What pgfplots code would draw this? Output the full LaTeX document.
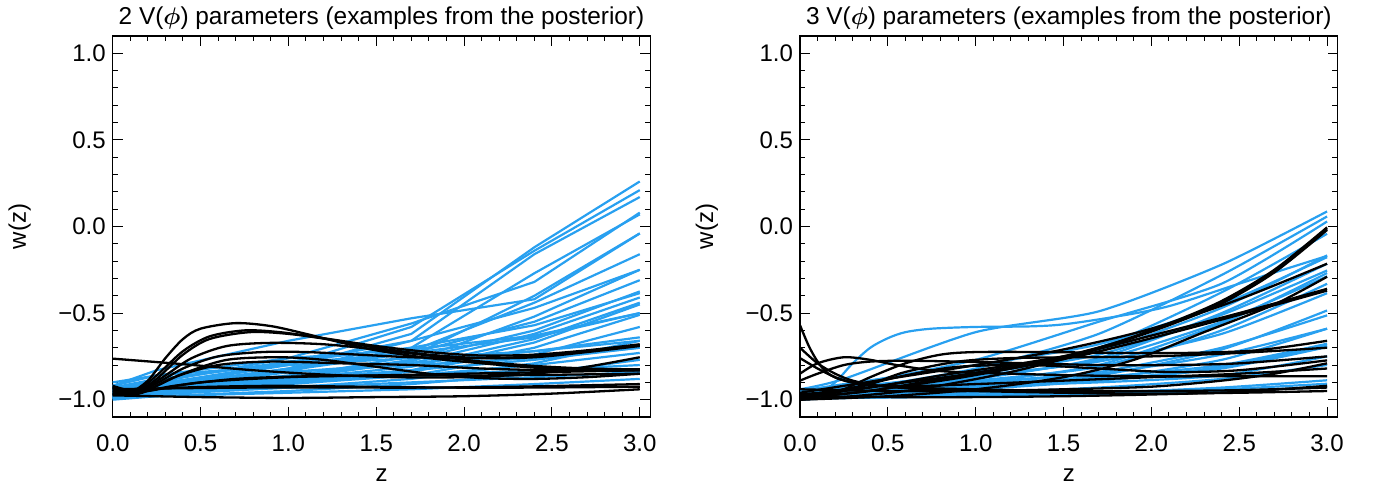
\documentclass[border=0pt]{standalone}
\usepackage{amsmath}
\usepackage{fontspec}
\setmainfont{Liberation Sans}
\usepackage{pgfplots}
\pgfplotsset{compat=1.18}
\definecolor{lblue}{RGB}{40,160,240}
\pgfplotsset{
  every axis title shift=0pt,
  idl/.style={
    scale only axis, width=268.8pt, height=190.5pt,
    xmin=0, xmax=3.06, ymin=-1.1, ymax=1.1,
    xtick={0,0.5,1,1.5,2,2.5,3},
    xticklabels={0.0,0.5,1.0,1.5,2.0,2.5,3.0},
    ytick={-1,-0.5,0,0.5,1},
    yticklabels={−1.0,−0.5,0.0,0.5,1.0},
    minor x tick num=4, minor y tick num=4,
    tick align=inside, major tick length=5pt, minor tick length=2.7pt,
    every tick/.style={black, line width=0.5pt},
    axis line style={line width=0.6pt},
    tick label style={font=\fontsize{12}{14}\selectfont},
    xticklabel style={yshift=-5.5pt},
    label style={font=\fontsize{12}{14}\selectfont},
    title style={font=\fontsize{12.2}{14}\selectfont, at={(axis description cs:0.5,1.0289)}, anchor=base},
    xlabel={z},
    xlabel style={at={(axis description cs:0.5,-0.1698)}, anchor=base},
    ylabel={w(z)},
    ylabel style={at={(axis description cs:-0.173,0.5)}, anchor=center},
    bl/.style={lblue, line width=1.1pt},
    bk/.style={black, line width=1.15pt, smooth},
  }
}
\pgfplotstableread{
z    a1    a2    a3    a4    a5    a6    a7    a8    a9    a10   a11   a12   a13    a14   a15
0   -0.97 -0.96 -0.98 -0.95 -0.97 -0.92 -0.96 -0.99 -0.95 -0.97 -0.98 -0.94 -0.96  -0.99 -0.93
0.25 -0.94 -0.92 -0.95 -0.90 -0.94 -0.83 -0.92 -0.96 -0.91 -0.93 -0.95 -0.89 -0.93 -0.97 -0.88
1.0 -0.82 -0.80 -0.84 -0.76 -0.83 -0.66 -0.82 -0.88 -0.79 -0.83 -0.87 -0.78 -0.86  -0.90 -0.79
1.7 -0.62 -0.58 -0.66 -0.56 -0.70 -0.53 -0.72 -0.78 -0.66 -0.73 -0.77 -0.70 -0.79  -0.83 -0.73
2.4 -0.12 -0.14 -0.16 -0.32 -0.27 -0.42 -0.44 -0.52 -0.47 -0.55 -0.60 -0.57 -0.62  -0.67 -0.64
3.0  0.26  0.21  0.17  0.08  0.07 -0.04 -0.16 -0.25 -0.25 -0.31 -0.375 -0.385 -0.41 -0.45 -0.50
}\leftblueA
\pgfplotstableread{
z    a16   a17   a18   a19   a20   a21   a22   a23   a24   a25   a26   a27   a28   a29   a30
0   -0.97 -0.98 -0.95 -0.99 -0.97 -1.00 -0.96 -0.98 -0.90 -0.99 -0.94 -0.97 -0.92 -0.98 -0.96
0.25 -0.95 -0.96 -0.91 -0.97 -0.94 -0.98 -0.93 -0.96 -0.86 -0.98 -0.90 -0.95 -0.86 -0.95 -0.94
1.0 -0.89 -0.91 -0.84 -0.93 -0.88 -0.95 -0.89 -0.93 -0.80 -0.96 -0.84 -0.90 -0.76 -0.88 -0.87
1.7 -0.84 -0.86 -0.79 -0.88 -0.83 -0.91 -0.86 -0.90 -0.76 -0.94 -0.80 -0.86 -0.71 -0.81 -0.75
2.4 -0.70 -0.74 -0.72 -0.79 -0.77 -0.85 -0.83 -0.87 -0.72 -0.91 -0.76 -0.80 -0.63 -0.65 -0.40
3.0 -0.51 -0.58 -0.64 -0.66 -0.70 -0.77 -0.80 -0.84 -0.66 -0.88 -0.70 -0.73 -0.50 -0.44 -0.04
}\leftblueB
\pgfplotstableread{
z    r1    r2    r3    r4    r5    r6    r7    r8    r9    r10   r11   r12
0   -0.94 -0.98 -0.96 -0.99 -0.97 -0.95 -0.98 -0.96 -0.99 -0.97 -0.98 -0.95
0.25 -0.88 -0.95 -0.92 -0.96 -0.94 -0.91 -0.96 -0.93 -0.97 -0.95 -0.96 -0.93
1.0 -0.61 -0.82 -0.77 -0.85 -0.84 -0.80 -0.88 -0.85 -0.90 -0.87 -0.89 -0.86
1.7 -0.49 -0.62 -0.55 -0.70 -0.72 -0.68 -0.76 -0.74 -0.80 -0.77 -0.81 -0.78
2.4 -0.22 -0.28 -0.33 -0.38 -0.47 -0.45 -0.50 -0.51 -0.56 -0.55 -0.60 -0.62
3.0  0.087 0.058 0.029 -0.042 -0.167 -0.177 -0.215 -0.254 -0.269 -0.288 -0.331 -0.385
}\rightblueA
\pgfplotstableread{
z    r13   r14   r15   r16   r17   r18   r19   r20   r21   r22   r23   r24
0   -0.99 -0.97 -0.98 -0.96 -1.00 -0.97 -0.99 -1.00 -0.98 -0.99 -0.95 -0.94
0.25 -0.97 -0.95 -0.97 -0.95 -0.98 -0.96 -0.98 -0.99 -0.98 -0.99 -0.94 -0.93
1.0 -0.92 -0.90 -0.93 -0.91 -0.94 -0.93 -0.96 -0.98 -0.97 -0.98 -0.92 -0.90
1.7 -0.86 -0.84 -0.88 -0.87 -0.89 -0.89 -0.93 -0.96 -0.96 -0.97 -0.90 -0.85
2.4 -0.71 -0.70 -0.77 -0.80 -0.81 -0.82 -0.88 -0.93 -0.94 -0.95 -0.86 -0.74
3.0 -0.485 -0.513 -0.59 -0.677 -0.687 -0.696 -0.80 -0.888 -0.908 -0.927 -0.75 -0.59
}\rightblueB
\begin{document}
\begin{tikzpicture}
\path[use as bounding box] (0,0) rectangle (690pt,243.5pt);
% ---------------- left panel ----------------
\begin{axis}[idl, at={(56.35pt,35pt)}, anchor=south west,
  title={2 V($\boldsymbol{\phi}$) parameters (examples from the posterior)}]
\foreach \c in {a1,a2,a3,a4,a5,a6,a7,a8,a9,a10,a11,a12,a13,a14,a15}{
  \addplot[bl] table[x=z, y=\c] {\leftblueA};
}
\foreach \c in {a16,a17,a18,a19,a20,a21,a22,a23,a24,a25,a26,a27,a28,a29,a30}{
  \addplot[bl] table[x=z, y=\c] {\leftblueB};
}
\addplot[bk] coordinates {(0,-0.93) (0.1,-0.955) (0.2,-0.89) (0.3,-0.76) (0.4,-0.65) (0.5,-0.59) (0.7,-0.558) (0.9,-0.575) (1.1,-0.62) (1.3,-0.67) (1.5,-0.715) (1.8,-0.76) (2.1,-0.79) (2.4,-0.815) (2.7,-0.83) (3.0,-0.83)};
\addplot[bk] coordinates {(0,-0.95) (0.12,-0.96) (0.25,-0.86) (0.4,-0.72) (0.55,-0.635) (0.75,-0.60) (0.95,-0.61) (1.2,-0.645) (1.5,-0.69) (1.8,-0.725) (2.1,-0.745) (2.4,-0.74) (2.7,-0.715) (3.0,-0.68)};
\addplot[bk] coordinates {(0,-0.96) (0.12,-0.965) (0.25,-0.88) (0.4,-0.74) (0.55,-0.65) (0.78,-0.61) (1.0,-0.62) (1.25,-0.655) (1.5,-0.70) (1.8,-0.74) (2.1,-0.76) (2.4,-0.755) (2.7,-0.725) (3.0,-0.69)};
\addplot[bk] coordinates {(0,-0.97) (0.15,-0.955) (0.3,-0.86) (0.45,-0.76) (0.65,-0.69) (0.9,-0.672) (1.2,-0.68) (1.5,-0.71) (1.8,-0.745) (2.1,-0.78) (2.4,-0.805) (2.7,-0.82) (3.0,-0.825)};
\addplot[bk] coordinates {(0,-0.96) (0.2,-0.93) (0.4,-0.82) (0.6,-0.75) (0.85,-0.725) (1.1,-0.725) (1.4,-0.74) (1.7,-0.755) (2.0,-0.76) (2.3,-0.755) (2.6,-0.73) (3.0,-0.685)};
\addplot[bk] coordinates {(0,-0.97) (0.2,-0.94) (0.4,-0.85) (0.65,-0.77) (0.95,-0.755) (1.2,-0.77) (1.5,-0.81) (1.8,-0.85) (2.1,-0.875) (2.4,-0.88) (2.7,-0.87) (3.0,-0.85)};
\addplot[bk] coordinates {(0,-0.763) (0.4,-0.795) (0.8,-0.83) (1.2,-0.855) (1.6,-0.87) (2.0,-0.87) (2.4,-0.85) (2.7,-0.81) (3.0,-0.755)};
\addplot[bk] coordinates {(0,-0.975) (0.5,-0.985) (1.0,-0.99) (1.5,-0.985) (2.0,-0.98) (2.5,-0.965) (3.0,-0.94)};
\addplot[bk] coordinates {(0,-0.94) (0.3,-0.935) (0.8,-0.93) (1.3,-0.93) (1.8,-0.93) (2.3,-0.925) (3.0,-0.91)};
\addplot[bk] coordinates {(0,-0.92) (0.15,-0.955) (0.35,-0.92) (0.7,-0.88) (1.1,-0.865) (1.6,-0.86) (2.1,-0.86) (2.6,-0.855) (3.0,-0.85)};
\addplot[bk] coordinates {(0,-0.97) (0.2,-0.95) (0.5,-0.90) (1.0,-0.87) (1.5,-0.86) (2.0,-0.85) (2.5,-0.84) (3.0,-0.83)};
\addplot[bk] coordinates {(0,-0.95) (0.4,-0.93) (0.9,-0.92) (1.4,-0.925) (1.9,-0.93) (2.4,-0.93) (3.0,-0.925)};
\addplot[bk] coordinates {(0,-0.93) (0.15,-0.965) (0.35,-0.87) (0.6,-0.80) (0.9,-0.78) (1.3,-0.79) (1.7,-0.80) (2.1,-0.82) (2.5,-0.83) (3.0,-0.83)};
\end{axis}
% ---------------- right panel ----------------
\begin{axis}[idl, at={(400pt,35pt)}, anchor=south west,
  title={3 V($\boldsymbol{\phi}$) parameters (examples from the posterior)}]
\foreach \c in {r1,r2,r3,r4,r5,r6,r7,r8,r9,r10,r11,r12}{
  \addplot[bl, smooth, tension=0.4] table[x=z, y=\c] {\rightblueA};
}
\foreach \c in {r13,r14,r15,r16,r17,r18,r19,r20,r21,r22,r23,r24}{
  \addplot[bl, smooth, tension=0.4] table[x=z, y=\c] {\rightblueB};
}
\addplot[bl, smooth] coordinates {(0,-1.0) (0.1,-0.97) (0.2,-0.90) (0.3,-0.79) (0.4,-0.70) (0.5,-0.645) (0.6,-0.61) (0.75,-0.59) (1.0,-0.58) (1.3,-0.577) (1.5,-0.565) (1.8,-0.52) (2.1,-0.46) (2.5,-0.33) (3.0,-0.17)};
\addplot[bk] coordinates {(0,-0.57) (0.05,-0.69) (0.1,-0.78) (0.15,-0.84) (0.22,-0.88) (0.35,-0.91) (0.6,-0.93) (1.0,-0.94) (1.5,-0.95) (2.0,-0.95) (2.5,-0.945) (3.0,-0.93)};
\addplot[bk] coordinates {(0,-0.70) (0.1,-0.79) (0.2,-0.85) (0.3,-0.89) (0.45,-0.92) (0.7,-0.94) (1.0,-0.95) (1.5,-0.96) (2.0,-0.965) (2.5,-0.96) (3.0,-0.95)};
\addplot[bk] coordinates {(0,-0.76) (0.1,-0.82) (0.2,-0.87) (0.3,-0.9) (0.45,-0.92) (0.7,-0.92) (1.0,-0.91) (1.5,-0.89) (2.0,-0.87) (2.5,-0.85) (3.0,-0.82)};
\addplot[bk] coordinates {(0,-0.85) (0.1,-0.79) (0.25,-0.755) (0.4,-0.77) (0.55,-0.80) (0.8,-0.835) (1.2,-0.85) (1.6,-0.86) (2.0,-0.865) (2.5,-0.865) (3.0,-0.865)};
\addplot[bk] coordinates {(0,-0.89) (0.1,-0.85) (0.25,-0.80) (0.4,-0.78) (0.6,-0.775) (0.9,-0.78) (1.3,-0.79) (1.7,-0.80) (2.1,-0.80) (2.5,-0.79) (3.0,-0.75)};
\addplot[bk] coordinates {(0,-1.0) (0.2,-0.96) (0.4,-0.87) (0.6,-0.79) (0.8,-0.74) (1.0,-0.725) (1.4,-0.725) (1.8,-0.73) (2.2,-0.73) (2.6,-0.715) (3.0,-0.66)};
\addplot[bk] coordinates {(0,-0.99) (0.2,-0.96) (0.4,-0.91) (0.6,-0.84) (0.9,-0.78) (1.2,-0.76) (1.6,-0.755) (2.0,-0.75) (2.5,-0.73) (3.0,-0.70)};
\addplot[bk] coordinates {(0,-0.98) (0.3,-0.93) (0.6,-0.86) (0.9,-0.81) (1.3,-0.80) (1.7,-0.82) (2.1,-0.84) (2.5,-0.83) (3.0,-0.773)};
\addplot[bk] coordinates {(0,-0.99) (0.3,-0.96) (0.6,-0.92) (0.9,-0.875) (1.2,-0.82) (1.5,-0.755) (1.8,-0.67) (2.1,-0.56) (2.4,-0.43) (2.7,-0.25) (3.0,-0.005)};
\addplot[bk] coordinates {(0,-0.97) (0.3,-0.94) (0.6,-0.90) (0.9,-0.86) (1.2,-0.81) (1.5,-0.75) (1.8,-0.67) (2.1,-0.565) (2.4,-0.44) (2.7,-0.26) (3.0,-0.015)};
\addplot[bk] coordinates {(0,-1.0) (0.3,-0.98) (0.6,-0.95) (0.9,-0.90) (1.2,-0.84) (1.5,-0.765) (1.8,-0.675) (2.1,-0.57) (2.4,-0.445) (2.7,-0.265) (3.0,-0.02)};
\addplot[bk] coordinates {(0,-0.96) (0.5,-0.88) (1.0,-0.80) (1.5,-0.71) (2.0,-0.59) (2.5,-0.42) (3.0,-0.215)};
\addplot[bk] coordinates {(0,-1.0) (0.5,-0.98) (1.0,-0.94) (1.5,-0.87) (1.9,-0.77) (2.3,-0.61) (2.7,-0.45) (3.0,-0.29)};
\addplot[bk] coordinates {(0,-0.98) (0.4,-0.93) (0.8,-0.86) (1.2,-0.80) (1.6,-0.73) (2.0,-0.63) (2.5,-0.50) (3.0,-0.36)};
\addplot[bk] coordinates {(0,-0.99) (0.4,-0.95) (0.8,-0.88) (1.2,-0.82) (1.6,-0.745) (2.0,-0.645) (2.5,-0.51) (3.0,-0.37)};
\addplot[bk] coordinates {(0,-0.98) (0.5,-0.985) (1.0,-0.985) (1.5,-0.98) (2.0,-0.97) (2.5,-0.955) (3.0,-0.92)};
\addplot[bk] coordinates {(0,-0.94) (0.5,-0.95) (1.0,-0.95) (1.5,-0.94) (2.0,-0.925) (2.4,-0.89) (2.7,-0.85) (3.0,-0.79)};
\end{axis}
\end{tikzpicture}
\end{document}
